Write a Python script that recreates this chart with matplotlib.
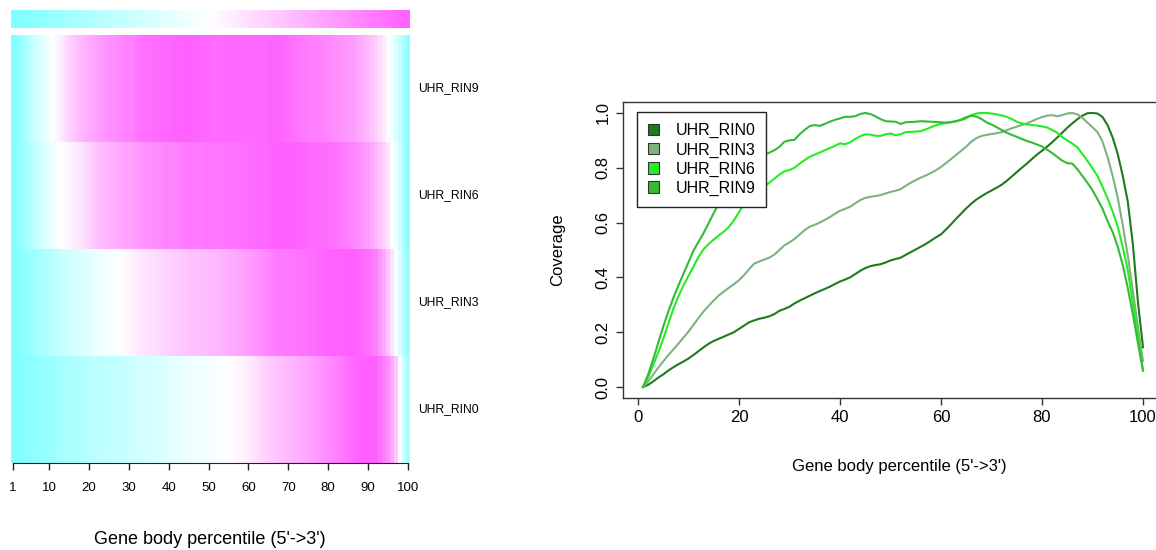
import matplotlib.pyplot as plt
import numpy as np
from matplotlib.colors import LinearSegmentedColormap
from matplotlib.patches import Patch
from matplotlib.transforms import blended_transform_factory

plt.rcParams["font.family"] = ["Liberation Sans", "DejaVu Sans"]

W, H = 1156, 550

percentis = np.arange(1, 101)
amostras = ["UHR_RIN0", "UHR_RIN3", "UHR_RIN6", "UHR_RIN9"]
cores = ["#1f7a1f", "#7fb27f", "#22ee22", "#33bb33"]

rin0 = [
    0.000, 0.008, 0.020, 0.034, 0.046, 0.060, 0.072, 0.083, 0.093, 0.104,
    0.117, 0.131, 0.145, 0.158, 0.168, 0.176, 0.184, 0.192, 0.200, 0.212,
    0.224, 0.236, 0.243, 0.249, 0.253, 0.258, 0.266, 0.278, 0.285, 0.293,
    0.305, 0.315, 0.324, 0.333, 0.342, 0.350, 0.358, 0.366, 0.376, 0.385,
    0.392, 0.400, 0.412, 0.424, 0.434, 0.441, 0.445, 0.448, 0.454, 0.462,
    0.467, 0.472, 0.482, 0.492, 0.502, 0.512, 0.522, 0.534, 0.546, 0.557,
    0.575, 0.594, 0.614, 0.633, 0.652, 0.669, 0.684, 0.696, 0.707, 0.717,
    0.727, 0.738, 0.752, 0.768, 0.784, 0.800, 0.815, 0.832, 0.848, 0.862,
    0.877, 0.893, 0.910, 0.928, 0.946, 0.962, 0.977, 0.990, 0.999, 1.000,
    0.998, 0.985, 0.955, 0.910, 0.850, 0.770, 0.675, 0.520, 0.310, 0.145,
]
rin3 = [
    0.000, 0.020, 0.045, 0.070, 0.094, 0.116, 0.137, 0.158, 0.180, 0.202,
    0.227, 0.252, 0.276, 0.296, 0.316, 0.334, 0.348, 0.362, 0.375, 0.390,
    0.408, 0.430, 0.450, 0.458, 0.465, 0.472, 0.483, 0.500, 0.517, 0.528,
    0.540, 0.556, 0.572, 0.585, 0.592, 0.600, 0.610, 0.620, 0.632, 0.643,
    0.650, 0.658, 0.670, 0.682, 0.690, 0.694, 0.697, 0.700, 0.706, 0.712,
    0.716, 0.722, 0.734, 0.745, 0.755, 0.764, 0.772, 0.781, 0.791, 0.803,
    0.817, 0.832, 0.847, 0.862, 0.877, 0.895, 0.908, 0.916, 0.920, 0.923,
    0.926, 0.930, 0.937, 0.944, 0.950, 0.956, 0.962, 0.970, 0.978, 0.985,
    0.990, 0.992, 0.988, 0.992, 0.998, 1.000, 0.995, 0.982, 0.965, 0.948,
    0.930, 0.895, 0.838, 0.770, 0.690, 0.590, 0.478, 0.350, 0.220, 0.095,
]
rin6 = [
    0.000, 0.035, 0.080, 0.125, 0.175, 0.230, 0.285, 0.330, 0.370, 0.405,
    0.440, 0.475, 0.503, 0.522, 0.538, 0.553, 0.567, 0.584, 0.608, 0.638,
    0.668, 0.692, 0.708, 0.720, 0.732, 0.745, 0.760, 0.775, 0.787, 0.792,
    0.800, 0.815, 0.828, 0.840, 0.848, 0.856, 0.864, 0.872, 0.880, 0.889,
    0.886, 0.893, 0.905, 0.915, 0.922, 0.921, 0.917, 0.916, 0.922, 0.925,
    0.919, 0.922, 0.930, 0.931, 0.932, 0.934, 0.940, 0.948, 0.955, 0.960,
    0.963, 0.966, 0.970, 0.974, 0.980, 0.992, 0.998, 1.000, 1.000, 0.998,
    0.995, 0.991, 0.986, 0.978, 0.968, 0.962, 0.958, 0.956, 0.954, 0.951,
    0.947, 0.938, 0.928, 0.912, 0.900, 0.888, 0.875, 0.850, 0.825, 0.798,
    0.770, 0.730, 0.688, 0.640, 0.585, 0.510, 0.425, 0.305, 0.185, 0.060,
]
rin9 = [
    0.000, 0.045, 0.100, 0.160, 0.220, 0.275, 0.325, 0.370, 0.413, 0.455,
    0.498, 0.530, 0.562, 0.598, 0.635, 0.668, 0.695, 0.720, 0.745, 0.765,
    0.785, 0.800, 0.815, 0.832, 0.848, 0.855, 0.864, 0.876, 0.895, 0.900,
    0.902, 0.922, 0.938, 0.952, 0.956, 0.953, 0.960, 0.968, 0.975, 0.980,
    0.986, 0.986, 0.988, 0.996, 1.000, 0.996, 0.988, 0.978, 0.970, 0.969,
    0.968, 0.960, 0.966, 0.967, 0.968, 0.970, 0.969, 0.968, 0.967, 0.966,
    0.965, 0.967, 0.970, 0.976, 0.985, 0.990, 0.987, 0.978, 0.966, 0.958,
    0.948, 0.938, 0.928, 0.920, 0.913, 0.905, 0.898, 0.892, 0.885, 0.878,
    0.866, 0.854, 0.840, 0.826, 0.817, 0.815, 0.795, 0.770, 0.745, 0.718,
    0.685, 0.650, 0.605, 0.565, 0.512, 0.445, 0.360, 0.265, 0.160, 0.060,
]
series = [rin0, rin3, rin6, rin9]

ticks_heat = [1, 10, 20, 30, 40, 50, 60, 70, 80, 90, 100]
ticks_x = [0, 20, 40, 60, 80, 100]
ticks_y = [0.0, 0.2, 0.4, 0.6, 0.8, 1.0]
xlabel = "Gene body percentile (5'->3')"

cmap = LinearSegmentedColormap.from_list("cm", ["#80ffff", "#ffffff", "#ff60ff"])


def _pos(x0, y0, x1, y1):
    # pixels (top-left origin) -> fig fraction
    return [x0 / W, 1 - y1 / H, (x1 - x0) / W, (y1 - y0) / H]


fig = plt.figure(figsize=(W / 100, H / 100), dpi=100)

# --- heatmap ---
ax_bar = fig.add_axes(_pos(11, 10, 410, 28))
ax_bar.imshow(percentis[None, :], cmap=cmap, aspect="auto",
              extent=(0.5, 100.5, 0, 1), interpolation="nearest")
ax_bar.axis("off")

ax_h = fig.add_axes(_pos(11, 35, 410, 463))
heat = np.array(series[::-1])
ax_h.imshow(heat, cmap=cmap, vmin=0, vmax=1, aspect="auto",
            extent=(0.5, 100.5, -0.5, len(heat) - 0.5), interpolation="nearest")
for s in ["top", "left", "right"]:
    ax_h.spines[s].set_visible(False)
ax_h.spines["bottom"].set_bounds(1, 100)
ax_h.spines["bottom"].set_color("#222222")
ax_h.set_yticks([])
ax_h.set_xticks(ticks_heat)
ax_h.set_xticklabels([str(t) for t in ticks_heat])
ax_h.tick_params(axis="x", length=5, width=1, color="#222222", labelsize=9.5, pad=9)

trans = blended_transform_factory(ax_h.transAxes, ax_h.transData)
for i, nome in enumerate(amostras[::-1]):
    ax_h.text(1.02, len(heat) - 1 - i, nome, transform=trans, fontsize=8.7,
              va="center", ha="left")

fig.text(210 / W, 1 - 540 / H, xlabel, fontsize=13, ha="center", va="center")

# --- curvas ---
ax = fig.add_axes(_pos(623, 102, 1163, 398))
for nome, vals, cor in zip(amostras, series, cores):
    ax.plot(percentis, vals, color=cor, lw=1.5)

ax.set_xlim(1 - 0.04 * 99, 100 + 0.04 * 99)
ax.set_ylim(-0.04, 1.04)
ax.set_xticks(ticks_x)
ax.set_yticks(ticks_y)
ax.set_yticklabels([f"{t:.1f}" for t in ticks_y], rotation=90, va="center")
ax.tick_params(length=5, width=1, color="#333333", labelsize=12, pad=4)
for s in ax.spines.values():
    s.set_color("#333333")
    s.set_linewidth(1)

handles = [Patch(facecolor=c, edgecolor="#333333", lw=0.8) for c in cores]
leg = ax.legend(handles, amostras, loc="upper left", bbox_to_anchor=(0.026, 0.966),
                borderaxespad=0, fontsize=11.5, handlelength=0.7, handleheight=0.7,
                handletextpad=1.0, labelspacing=0.25, borderpad=0.7,
                fancybox=False, framealpha=1, edgecolor="#222222")
leg.get_frame().set_linewidth(1)

fig.text(899 / W, 1 - 466 / H, xlabel, fontsize=12, ha="center", va="center")
fig.text(558 / W, 1 - 250 / H, "Coverage", fontsize=12, ha="center", va="center",
         rotation=90)

fig.savefig("out.png", dpi=100)
